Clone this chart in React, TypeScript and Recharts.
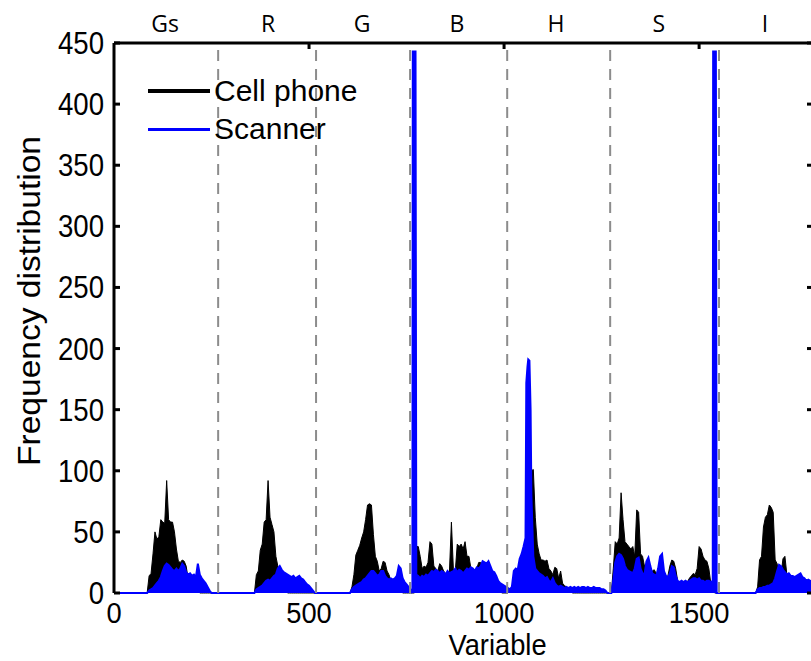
import React from 'react';
import { ComposedChart, Area, XAxis, YAxis, ReferenceLine, Legend } from 'recharts';

const FONT = '"Liberation Sans", Arial, sans-serif';
const STEP = 5;
const X_MAX = 1790;

const channels = ['Gs', 'R', 'G', 'B', 'H', 'S', 'I'];
const channelCenters = [131, 395, 636, 879, 1133, 1397, 1669];
const channelBounds = [267, 518, 759, 1008, 1272, 1551];
const xTicks = [0, 500, 1000, 1500];
const topTicks = [500, 1000, 1500];
const yTicks = [0, 50, 100, 150, 200, 250, 300, 350, 400, 450];

// cell phone counts, one array per channel, every 5 variables from its start
const phoneGs = [14, 16, 32, 50, 44, 46, 60, 58, 57, 92, 60, 58, 58, 50, 36, 26, 25, 27, 26, 22, 12, 8, 5, 4, 3, 2, 0];
const phoneR = [15, 18, 35, 40, 58, 60, 92, 62, 56, 50, 30, 22, 15, 10, 6, 3, 0];
const phoneG = [5, 15, 31, 35, 39, 45, 50, 60, 72, 73, 72, 48, 30, 26, 18, 20, 26, 25, 18, 15, 10, 8, 6, 4, 3, 2, 0];
const phoneB = [38, 38, 30, 20, 22, 21, 25, 42, 40, 22, 20, 18, 24, 22, 18, 16, 15, 18, 58, 20, 18, 40, 38, 40, 36, 42, 30, 30, 20, 15, 18, 20, 25, 25, 15, 12, 10, 8, 6, 5, 4, 3, 2, 1, 0];
const phoneH = [2, 3, 4, 5, 6, 8, 10, 12, 20, 60, 95, 100, 101, 62, 40, 32, 27, 27, 26, 27, 20, 18, 15, 21, 20, 12, 18, 8, 6, 5, 3, 2];
const phoneS = [20, 42, 40, 45, 82, 60, 42, 40, 38, 36, 38, 30, 68, 66, 32, 30, 22, 24, 20, 19, 18, 19, 16, 12, 10, 12, 11, 10, 14, 22, 27, 26, 20, 10, 8, 9, 8, 10, 9, 12, 14, 16, 15, 20, 38, 36, 30, 27, 26, 20, 8, 5];
const phoneI = [5, 27, 30, 54, 62, 64, 72, 70, 66, 27, 24, 14, 15, 28, 30, 15, 12, 10, 8, 6, 5, 5, 4, 4, 3, 3, 3, 2, 2];
const phoneStarts = [90, 365, 610, 775, 1015, 1280, 1650];

// scanner counts, same layout
const scannerGs = [2, 3, 4, 6, 8, 10, 13, 18, 22, 24, 23, 21, 19, 18, 20, 18, 20, 24, 22, 17, 15, 16, 14, 15, 13, 24, 15, 12, 10, 8, 5, 2, 0];
const scannerR = [3, 4, 5, 6, 8, 10, 11, 10, 12, 14, 15, 20, 22, 19, 17, 16, 15, 14, 13, 14, 12, 13, 14, 12, 11, 9, 7, 6, 4, 2, 0];
const scannerG = [3, 5, 6, 7, 8, 9, 11, 12, 14, 16, 18, 18, 16, 14, 15, 18, 18, 14, 12, 11, 12, 11, 12, 14, 22, 20, 12, 9, 7, 5, 3];
const scannerB = [15, 14, 12, 14, 13, 15, 14, 16, 18, 17, 19, 18, 16, 18, 17, 15, 18, 16, 17, 18, 20, 17, 19, 18, 16, 18, 20, 19, 21, 20, 18, 21, 20, 22, 26, 25, 24, 26, 22, 18, 17, 14, 10, 8, 7, 6, 5];
const scannerH = [4, 3, 5, 18, 20, 19, 28, 32, 38, 45, 185, 190, 80, 30, 20, 18, 16, 15, 14, 12, 13, 10, 9, 12, 8, 6, 5, 6, 5, 4, 5, 4, 5, 4, 5, 4, 5, 4, 5, 5, 4, 5, 4, 4, 5, 4, 4, 4, 3, 3, 2, 0];
const scannerS = [10, 25, 30, 32, 31, 28, 22, 19, 18, 17, 16, 20, 28, 29, 20, 16, 15, 26, 29, 22, 16, 15, 14, 20, 30, 32, 18, 14, 13, 16, 22, 21, 14, 10, 9, 10, 9, 10, 9, 10, 11, 12, 12, 11, 12, 10, 10, 9, 10, 10, 9, 10];
const scannerI = [3, 4, 4, 5, 5, 6, 6, 7, 8, 12, 18, 23, 22, 19, 17, 15, 16, 14, 14, 13, 14, 15, 16, 13, 12, 10, 11, 10, 9];
const scannerStarts = [90, 365, 610, 775, 1010, 1280, 1650];

// narrow scanner peaks [variable, count]
const scannerPeaks = [
  [766, 443], [770, 443], [773, 443],
  [1057, 172], [1062, 191], [1068, 150],
  [1536, 443], [1540, 443], [1543, 443],
];

const phoneChannels = [phoneGs, phoneR, phoneG, phoneB, phoneH, phoneS, phoneI];
const scannerChannels = [scannerGs, scannerR, scannerG, scannerB, scannerH, scannerS, scannerI];

type Row = { x: number; phone: number | null; scanner: number | null };

const buildRows = (): Row[] => {
  const rows = new Map<number, Row>();
  for (let x = 0; x <= X_MAX; x += STEP) rows.set(x, { x, phone: 0, scanner: 0 });
  phoneChannels.forEach((vals, c) =>
    vals.forEach((v, i) => { rows.get(phoneStarts[c] + i * STEP)!.phone = v; })
  );
  scannerChannels.forEach((vals, c) =>
    vals.forEach((v, i) => { rows.get(scannerStarts[c] + i * STEP)!.scanner = v; })
  );
  scannerPeaks.forEach(([x, v]) => {
    const row = rows.get(x);
    if (row) row.scanner = v;
    else rows.set(x, { x, phone: null, scanner: v });
  });
  return [...rows.values()].sort((a, b) => a.x - b.x);
};

const data = buildRows();

const legendItems = [
  { label: 'Cell phone', color: '#000000', thick: 4 },
  { label: 'Scanner', color: '#0000ff', thick: 3 },
];

// the source figure is a bit taller than wide, so texts get squeezed horizontally
const Squeezed = ({ x, y, anchor, size, sx, children }: any) => (
  <text
    transform={`translate(${x}, ${y}) scale(${sx}, 1)`}
    textAnchor={anchor}
    fontFamily={FONT}
    fontSize={size}
    fill="#000"
  >
    {children}
  </text>
);

const LeftTick = ({ x, y, payload }: any) => (
  <g>
    <line x1={x} x2={x + 6} y1={y} y2={y} stroke="#000" strokeWidth={3} />
    <Squeezed x={x - 10} y={y + 11} anchor="end" size={30.5} sx={0.905}>
      {payload.value}
    </Squeezed>
  </g>
);

const RightTick = ({ x, y }: any) => (
  <line x1={x - 6} x2={x} y1={y} y2={y} stroke="#000" strokeWidth={3} />
);

const BottomTick = ({ x, y, payload }: any) => (
  <Squeezed x={x} y={y + 30} anchor="middle" size={30} sx={0.91}>
    {payload.value}
  </Squeezed>
);

const TopTick = ({ x, y, payload }: any) => {
  const idx = channelCenters.indexOf(payload.value);
  if (idx >= 0) {
    return (
      <text x={x} y={y - 11} textAnchor="middle" fontFamily='"Open Sans", sans-serif' fontSize={23} fill="#000">
        {channels[idx]}
      </text>
    );
  }
  return <line x1={x} x2={x} y1={y} y2={y + 6} stroke="#000" strokeWidth={3} />;
};

const renderLegend = () => (
  <div style={{ fontFamily: FONT, fontSize: 30, color: '#000' }}>
    {legendItems.map((item) => (
      <div key={item.label} style={{ display: 'flex', alignItems: 'center', height: 38 }}>
        <span style={{ display: 'inline-block', width: 62, height: item.thick, background: item.color, marginRight: 4 }} />
        <span style={{ lineHeight: '38px' }}>{item.label}</span>
      </div>
    ))}
  </div>
);

const App: React.FC = () => {
  return (
    <div style={{ width: 811, height: 661, overflow: 'hidden', position: 'relative', background: '#fff' }}>
      <style>{'body{margin:0;overflow:hidden;}'}</style>
      <ComposedChart width={830} height={661} data={data} margin={{ top: 0, right: 0, bottom: 0, left: 0 }}>
        <XAxis
          xAxisId="bottom"
          dataKey="x"
          type="number"
          domain={[0, 1792]}
          ticks={xTicks}
          interval={0}
          height={68}
          axisLine={false}
          tickLine={false}
          tickSize={0}
          tickMargin={0}
          tick={(p: any) => <BottomTick {...p} />}
          label={({ viewBox }: any) => (
            <Squeezed x={viewBox.x + viewBox.width / 2 + 34} y={viewBox.y + 62} anchor="middle" size={30} sx={0.91}>
              Variable
            </Squeezed>
          )}
        />
        <XAxis
          xAxisId="top"
          orientation="top"
          dataKey="x"
          type="number"
          domain={[0, 1792]}
          ticks={[...topTicks, ...channelCenters]}
          interval={0}
          height={43}
          axisLine={{ stroke: '#000', strokeWidth: 3 }}
          tickLine={false}
          tickSize={0}
          tickMargin={0}
          tick={(p: any) => <TopTick {...p} />}
        />
        <YAxis
          yAxisId="left"
          domain={[0, 450]}
          ticks={yTicks}
          interval={0}
          width={114}
          axisLine={{ stroke: '#000', strokeWidth: 3 }}
          tickLine={false}
          tickSize={0}
          tickMargin={0}
          tick={(p: any) => <LeftTick {...p} />}
          label={({ viewBox }: any) => (
            <text
              transform={`translate(${viewBox.x + 40}, ${viewBox.y + viewBox.height / 2 - 17}) rotate(-90) scale(1.1, 1)`}
              textAnchor="middle"
              fontFamily={FONT}
              fontSize={30.5}
              fill="#000"
            >
              Frequency distribution
            </text>
          )}
        />
        <YAxis
          yAxisId="right"
          orientation="right"
          domain={[0, 450]}
          ticks={yTicks}
          interval={0}
          width={17}
          axisLine={{ stroke: '#000', strokeWidth: 3 }}
          tickLine={false}
          tickSize={0}
          tickMargin={0}
          tick={(p: any) => <RightTick {...p} />}
        />
        <Legend
          content={renderLegend}
          layout="vertical"
          align="center"
          verticalAlign="middle"
          wrapperStyle={{ left: 148, top: 72, width: 'auto' }}
        />
        <Area
          xAxisId="bottom"
          yAxisId="left"
          type="linear"
          dataKey="phone"
          name="Cell phone"
          stroke="#000"
          strokeWidth={1}
          fill="#000"
          fillOpacity={1}
          connectNulls
          dot={false}
          activeDot={false}
          isAnimationActive={false}
        />
        <Area
          xAxisId="bottom"
          yAxisId="right"
          type="linear"
          dataKey="scanner"
          name="Scanner"
          stroke="#0000ff"
          strokeWidth={2}
          fill="#0000ff"
          fillOpacity={1}
          connectNulls
          dot={false}
          activeDot={false}
          isAnimationActive={false}
        />
        {channelBounds.map((b) => (
          <ReferenceLine
            key={b}
            x={b}
            xAxisId="bottom"
            yAxisId="left"
            stroke="#8c8c8c"
            strokeWidth={2}
            strokeDasharray="11 8"
          />
        ))}
      </ComposedChart>
    </div>
  );
};

export default App;
